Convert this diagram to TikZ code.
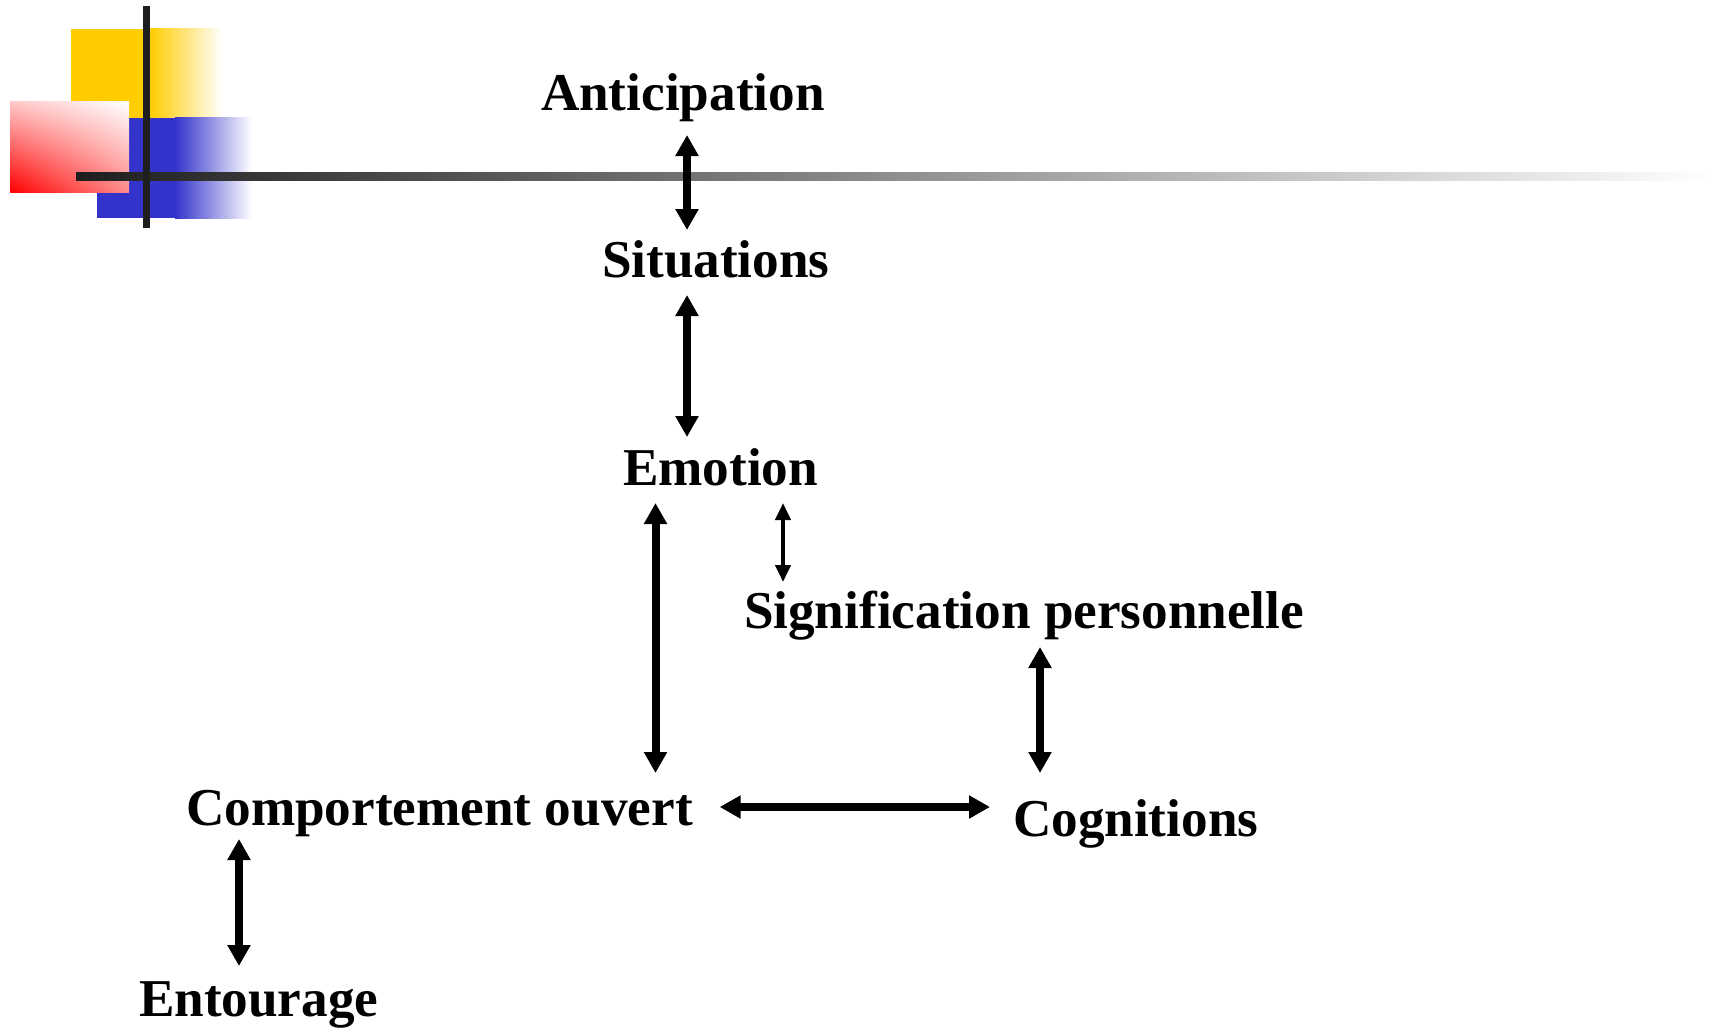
\documentclass[tikz,border=0pt]{standalone}
\usepackage{fontspec}
\setmainfont{Liberation Serif}
\usetikzlibrary{arrows.meta,shadings}
\definecolor{decoyellow}{RGB}{255,204,0}
\definecolor{decoblue}{RGB}{51,51,204}
\definecolor{decoline}{RGB}{30,30,30}
\tikzset{
  lbl/.style={anchor=base west, inner sep=0pt, outer sep=0pt, text height=36pt, text depth=11pt,
    font=\fontsize{53.2}{60}\selectfont\bfseries},
  biarrow/.style={line width=8pt, {Triangle[length=21pt,width=22pt]}-{Triangle[length=21pt,width=22pt]}},
  thinarrow/.style={line width=4pt, {Triangle[length=17pt,width=15pt]}-{Triangle[length=17pt,width=15pt]}}
}
\begin{document}
\begin{tikzpicture}[x=1pt,y=-1pt]
\useasboundingbox (0,0) rectangle (1713,1030);
% decoration
\fill[decoyellow] (71,29) rectangle (151,118);
\shade[left color=decoyellow, right color=white] (150,29) rectangle (222,118);
\fill[decoblue] (97,118) rectangle (176,218);
\shade[left color=decoblue, right color=white] (175,118) rectangle (252,218);
\shade[lower left=red, upper right=white, upper left=red!22, lower right=red!45] (10,102) rectangle (129,192);
\shade[left color=decoline, middle color=black!45, right color=white] (76,172) rectangle (1713,180);
\fill[decoline] (143,6) rectangle (150,228);
% labels
\node[lbl] (ant) at (541,111) {Anticipation};
\node[lbl] (sit) at (602,277.5) {Situations};
\node[lbl] (emo) at (623,485) {Emotion};
\node[lbl] (sig) at (744,628) {Signification personnelle};
\node[lbl] (com) at (186,825) {Comportement ouvert};
\node[lbl] (cog) at (1013,836) {Cognitions};
\node[lbl] (ent) at (139,1016.7) {Entourage};
% connectors
\draw[biarrow, shorten <=13pt, shorten >=11.5pt] (687,0 |- ant.south) -- (687,0 |- sit.north);
\draw[biarrow, shorten <=6.5pt, shorten >=12pt] (687,0 |- sit.south) -- (687,0 |- emo.north);
\draw[biarrow, shorten <=7pt, shorten >=16pt] (655.5,0 |- emo.south) -- (655.5,0 |- com.north);
\draw[thinarrow, shorten <=7pt, shorten >=10pt] (783,0 |- emo.south) -- (783,0 |- sig.north);
\draw[biarrow, shorten <=8pt, shorten >=27pt] (1040,0 |- sig.south) -- (1040,0 |- cog.north);
\draw[biarrow, shorten <=27pt, shorten >=23pt] (com.east |- 0,807) -- (cog.west |- 0,807);
\draw[biarrow, shorten <=3pt, shorten >=14.7pt] (239,0 |- com.south) -- (239,0 |- ent.north);
\end{tikzpicture}
\end{document}
